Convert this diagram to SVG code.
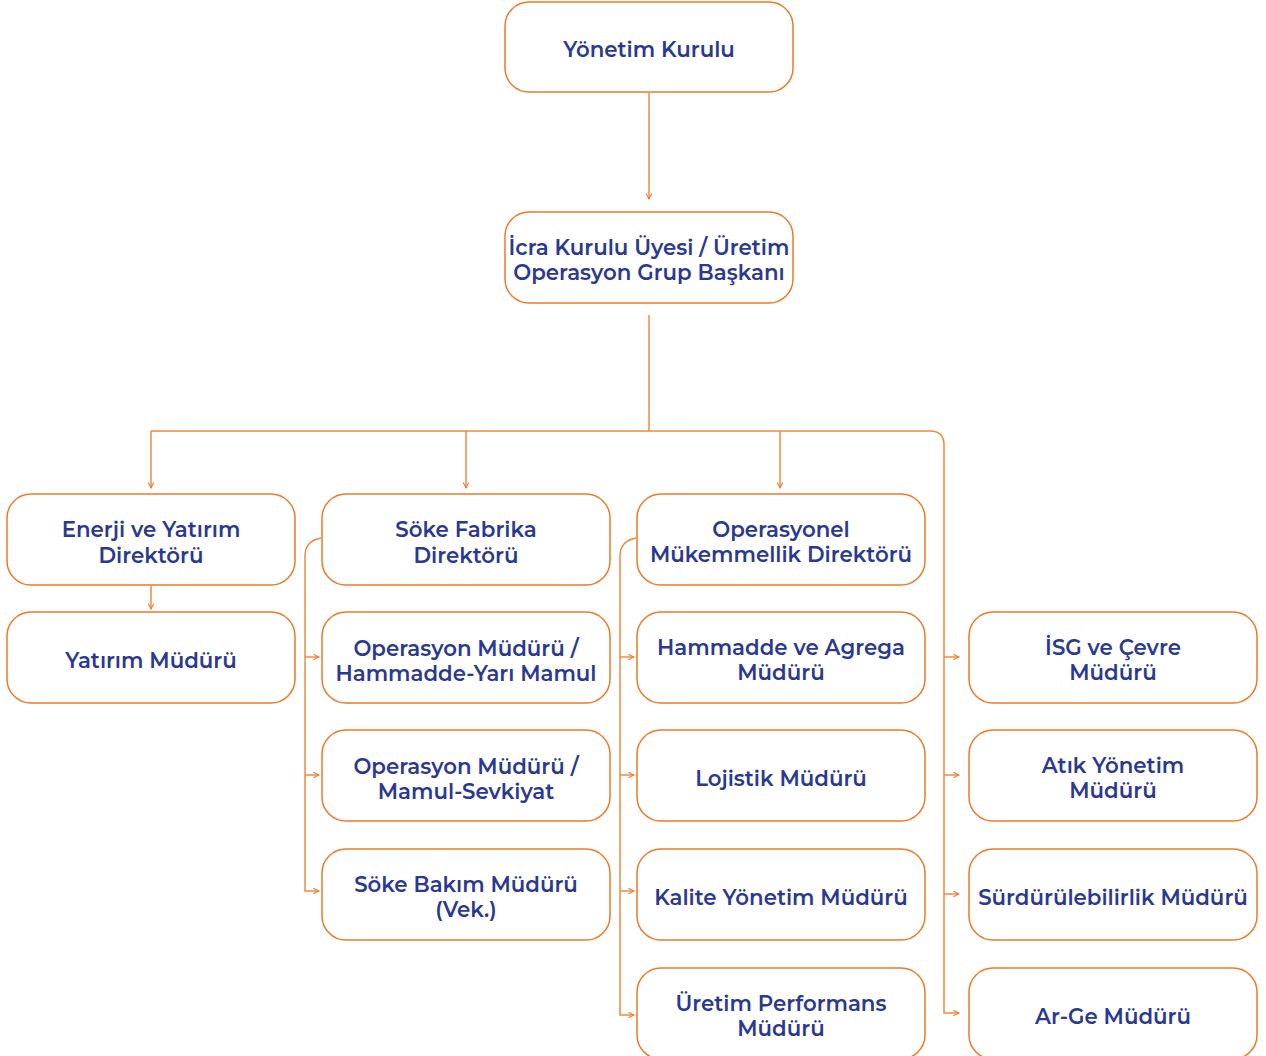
<svg xmlns="http://www.w3.org/2000/svg" width="1266" height="1056" viewBox="0 0 1266 1056">
<style>
.box{fill:#fff;stroke:#ED7A2A;stroke-width:1.5}
.t{font-family:"Montserrat","Open Sans","Liberation Sans",sans-serif;font-weight:600;font-size:21.3px;fill:#2B3990;text-anchor:middle}
.c{fill:none;stroke:#F08A3E;stroke-width:1.5}
</style>
<defs>
<marker id="a" viewBox="0 0 10 10" refX="9" refY="5" markerWidth="7" markerHeight="7" orient="auto" markerUnits="userSpaceOnUse">
<path d="M1,1 L9,5 L1,9" fill="none" stroke="#ED7A2A" stroke-width="1.5"/>
</marker>
</defs>
<rect width="1266" height="1056" fill="#fff"/>
<g id="connectors">
<path class="c" d="M649,93 V199" marker-end="url(#a)"/>
<path class="c" d="M649,315 V431"/>
<path class="c" d="M151,431 H930 Q944,431 944,445 V1013 H959" marker-end="url(#a)"/>
<path class="c" d="M151,431 V488" marker-end="url(#a)"/>
<path class="c" d="M466,431 V488" marker-end="url(#a)"/>
<path class="c" d="M780,431 V488" marker-end="url(#a)"/>
<path class="c" d="M151,586 V609" marker-end="url(#a)"/>
<path class="c" d="M321,538 Q305,541 305,556 V891 H319" marker-end="url(#a)"/>
<path class="c" d="M305,657 H319" marker-end="url(#a)"/>
<path class="c" d="M305,775 H319" marker-end="url(#a)"/>
<path class="c" d="M636,538 Q620,541 620,556 V1015 H634" marker-end="url(#a)"/>
<path class="c" d="M620,657 H634" marker-end="url(#a)"/>
<path class="c" d="M620,775 H634" marker-end="url(#a)"/>
<path class="c" d="M620,891 H634" marker-end="url(#a)"/>
<path class="c" d="M944,657 H959" marker-end="url(#a)"/>
<path class="c" d="M944,775 H959" marker-end="url(#a)"/>
<path class="c" d="M944,894 H959" marker-end="url(#a)"/>
</g>
<g id="n1"><rect class="box" x="505" y="2" width="288" height="90" rx="24"/><text class="t" x="649" y="57">Yönetim Kurulu</text></g>
<g id="n2"><rect class="box" x="505" y="212" width="288" height="91" rx="24"/><text class="t" x="649" y="255">İcra Kurulu Üyesi / Üretim</text><text class="t" x="649" y="280">Operasyon Grup Başkanı</text></g>
<g id="n3"><rect class="box" x="7" y="494" width="288" height="91" rx="24"/><text class="t" x="151" y="537">Enerji ve Yatırım</text><text class="t" x="151" y="563">Direktörü</text></g>
<g id="n4"><rect class="box" x="322" y="494" width="288" height="91" rx="24"/><text class="t" x="466" y="537">Söke Fabrika</text><text class="t" x="466" y="563">Direktörü</text></g>
<g id="n5"><rect class="box" x="637" y="494" width="288" height="91" rx="24"/><text class="t" x="781" y="537">Operasyonel</text><text class="t" x="781" y="562">Mükemmellik Direktörü</text></g>
<g id="n6"><rect class="box" x="7" y="612" width="288" height="91" rx="24"/><text class="t" x="151" y="668">Yatırım Müdürü</text></g>
<g id="n7"><rect class="box" x="322" y="612" width="288" height="91" rx="24"/><text class="t" x="466" y="656">Operasyon Müdürü /</text><text class="t" x="466" y="681">Hammadde-Yarı Mamul</text></g>
<g id="n8"><rect class="box" x="637" y="612" width="288" height="91" rx="24"/><text class="t" x="781" y="655">Hammadde ve Agrega</text><text class="t" x="781" y="680">Müdürü</text></g>
<g id="n9"><rect class="box" x="969" y="612" width="288" height="91" rx="24"/><text class="t" x="1113" y="655">İSG ve Çevre</text><text class="t" x="1113" y="680">Müdürü</text></g>
<g id="n10"><rect class="box" x="322" y="730" width="288" height="91" rx="24"/><text class="t" x="466" y="774">Operasyon Müdürü /</text><text class="t" x="466" y="799">Mamul-Sevkiyat</text></g>
<g id="n11"><rect class="box" x="637" y="730" width="288" height="91" rx="24"/><text class="t" x="781" y="786">Lojistik Müdürü</text></g>
<g id="n12"><rect class="box" x="969" y="730" width="288" height="91" rx="24"/><text class="t" x="1113" y="773">Atık Yönetim</text><text class="t" x="1113" y="798">Müdürü</text></g>
<g id="n13"><rect class="box" x="322" y="849" width="288" height="91" rx="24"/><text class="t" x="466" y="892">Söke Bakım Müdürü</text><text class="t" x="466" y="917">(Vek.)</text></g>
<g id="n14"><rect class="box" x="637" y="849" width="288" height="91" rx="24"/><text class="t" x="781" y="905">Kalite Yönetim Müdürü</text></g>
<g id="n15"><rect class="box" x="969" y="849" width="288" height="91" rx="24"/><text class="t" x="1113" y="905">Sürdürülebilirlik Müdürü</text></g>
<g id="n16"><rect class="box" x="637" y="968" width="288" height="91" rx="24"/><text class="t" x="781" y="1011">Üretim Performans</text><text class="t" x="781" y="1036">Müdürü</text></g>
<g id="n17"><rect class="box" x="969" y="968" width="288" height="91" rx="24"/><text class="t" x="1113" y="1024">Ar-Ge Müdürü</text></g>
</svg>
